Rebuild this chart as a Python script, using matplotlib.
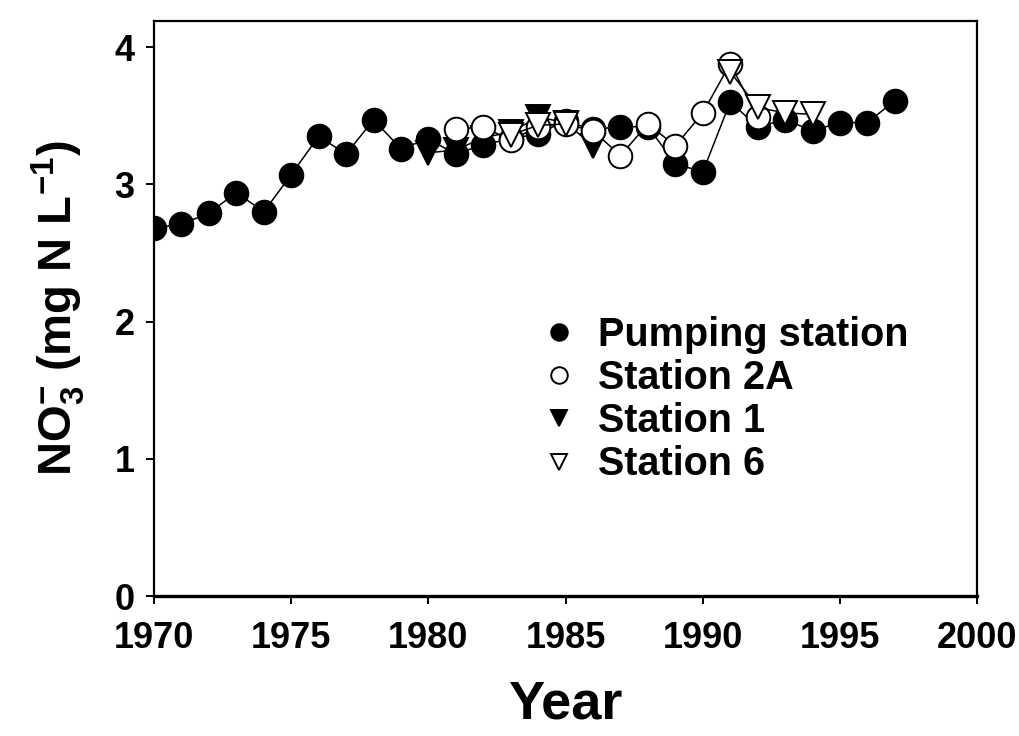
import numpy as np
import matplotlib
matplotlib.use("Agg")
import matplotlib.pyplot as plt

plt.rcParams['font.family'] = ['Liberation Sans', 'DejaVu Sans']
plt.rcParams['font.weight'] = 'bold'
plt.rcParams['mathtext.fontset'] = 'custom'
plt.rcParams['mathtext.rm'] = 'Liberation Sans:bold'
plt.rcParams['mathtext.it'] = 'Liberation Sans:bold'
plt.rcParams['mathtext.bf'] = 'Liberation Sans:bold'
plt.rcParams['mathtext.default'] = 'bf'

# Annual mean nitrate concentrations (mg N/L)
pumping_years = np.arange(1970, 1998)
pumping_no3 = [2.68, 2.71, 2.79, 2.94, 2.80, 3.07, 3.35, 3.22, 3.47, 3.26,
               3.33, 3.22, 3.29, 3.33, 3.37, 3.46, 3.40, 3.42, 3.42, 3.15,
               3.09, 3.60, 3.42, 3.47, 3.39, 3.45, 3.45, 3.61]

st2a_years = np.arange(1981, 1993)
st2a_no3 = [3.40, 3.42, 3.32, 3.42, 3.44, 3.39, 3.21, 3.44, 3.28, 3.52,
            3.88, 3.49]

st1_years = np.arange(1980, 1987)
st1_no3 = [3.23, 3.25, 3.34, 3.38, 3.49, 3.45, 3.28]

st6_years = [1983, 1984, 1985, 1986, 1991, 1992, 1993, 1994]
st6_no3 = [3.36, 3.43, 3.44, np.nan, 3.82, 3.56, 3.52, 3.51]

x_ticks = [1970, 1975, 1980, 1985, 1990, 1995, 2000]
y_ticks = [0, 1, 2, 3, 4]

fig = plt.figure(figsize=(10.2, 7.36), dpi=100)
ax = fig.add_axes([0.151, 0.190, 0.807, 0.7815])

ms = 17
lw = 1.1
mew = 1.4
ax.plot(pumping_years, pumping_no3, '-', color='black', lw=lw,
        marker='o', ms=ms, mfc='black', mec='black', mew=mew,
        label='Pumping station', zorder=3)
ax.plot(st1_years, st1_no3, '-', color='black', lw=lw,
        marker='v', ms=ms, mfc='black', mec='black', mew=mew,
        label='Station 1', zorder=4)
ax.plot(st2a_years, st2a_no3, '-', color='black', lw=lw,
        marker='o', ms=ms, mfc='white', mec='black', mew=mew,
        label='Station 2A', zorder=5)
ax.plot(st6_years, st6_no3, '-', color='black', lw=lw,
        marker='v', ms=ms, mfc='white', mec='black', mew=mew,
        label='Station 6', zorder=6)

ax.set_xlim(1970, 2000)
ax.set_ylim(0, 4.19)
ax.set_xticks(x_ticks)
ax.set_yticks(y_ticks)
ax.tick_params(axis='both', direction='out', length=6, width=1.4,
               labelsize=26)
ax.tick_params(axis='y', pad=8)
ax.tick_params(axis='x', pad=12)
for side in ['left', 'right', 'top']:
    ax.spines[side].set_linewidth(1.6)
ax.spines['bottom'].set_linewidth(2.4)

ax.set_xlabel('Year', fontsize=39, fontweight='bold', labelpad=17)
ax.set_ylabel(r'NO$_3^{-}$ (mg N L$^{-1}$)', fontsize=34,
              fontweight='bold', labelpad=20)

handles, labels = ax.get_legend_handles_labels()
order = [0, 2, 1, 3]
leg = ax.legend([handles[i] for i in order], [labels[i] for i in order],
                loc='upper left', bbox_to_anchor=(0.429, 0.549), frameon=False,
                fontsize=28.5, markerscale=0.7, handlelength=0.8,
                handletextpad=0.6, labelspacing=0.13, numpoints=1)
for h in leg.legend_handles:
    h.set_linestyle('none')

fig.savefig('out.png', dpi=100)
